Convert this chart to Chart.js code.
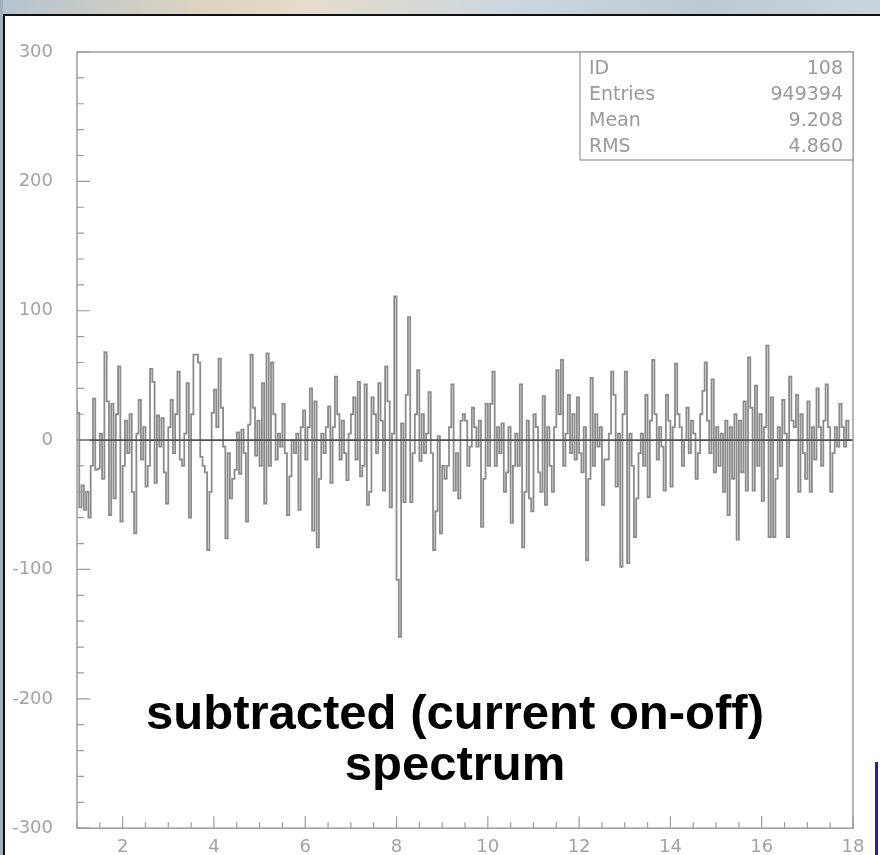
<!DOCTYPE html>
<html>
<head>
<meta charset="utf-8">
<script src="https://cdn.jsdelivr.net/npm/chart.js@4.4.0/dist/chart.umd.min.js"></script>
<style>
  html, body { margin: 0; padding: 0; background: #fff; }
  #page { position: relative; width: 880px; height: 855px; overflow: hidden; background: #fff; }
  #strip { position: absolute; left: 0; top: 0; width: 880px; height: 15px;
    background: linear-gradient(90deg, #b4c3cf 0%, #dcd3c0 22%, #e6dccb 35%, #cfd8df 55%, #bccad5 80%, #c9d5de 100%); }
  #leftStrip { position: absolute; left: 0; top: 0; width: 3px; height: 855px; background: #9fb0bd; }
  #borderTop { position: absolute; left: 3px; top: 14px; width: 877px; height: 2px; background: #111; }
  #borderLeft { position: absolute; left: 3px; top: 14px; width: 2px; height: 841px; background: #111; }
  #blueLine { position: absolute; left: 875px; top: 762px; width: 3px; height: 93px; background: #2e1f96; }
  #chartBox { position: absolute; left: 0; top: 0; width: 880px; height: 855px; }
  #chart { display: block; }
</style>
</head>
<body>
<div id="page">
  <div id="strip"></div>
  <div id="leftStrip"></div>
  <div id="borderTop"></div>
  <div id="borderLeft"></div>
  <div id="chartBox"><canvas id="chart" width="880" height="855"></canvas></div>
  <div id="blueLine"></div>
</div>
<script>
// histogram binning (energy axis)
const xMin = 1;
const xMax = 18;
const binWidth = 0.05;

// subtracted counts per bin (340 bins of 0.05)
const counts = [
  31, 21, -52, -35, -54, -40, -60, -20, 32, -23, -22, 5, -30, 68, 30, -58, 28, -45, 20, 57,
  -63, -20, 15, -10, 20, -40, -72, 5, 31, -15, 10, -36, -20, 55, 45, -33, 19, -5, 17, -25,
  -49, 10, 31, -10, 20, 53, -15, -20, 5, 44, -60, 20, 66, 66, 60, -13, -20, -25, -85, -40,
  21, 39, 10, 63, 25, -5, -76, -10, -45, -30, -23, 6, -26, 8, -10, -63, 12, 66, 25, -12,
  15, -20, 44, -49, 67, -20, 60, 20, -15, 5, -5, 28, -10, -58, -28, 0, -10, 5, -54, 10,
  23, -15, 10, 40, -70, 30, -83, -30, 5, -10, 10, 26, -33, 10, 49, 20, -15, 15, -10, -31,
  5, 20, 33, -15, 45, -28, -20, 43, -50, -40, 33, 20, -10, 44, 15, -39, 57, 30, -52, 5,
  111, -108, -152, 13, -48, 35, 95, -48, -10, 20, 54, -16, 20, -10, 5, 37, -10, -85, -55, 3,
  -72, -20, -30, -20, 10, 43, -39, -10, -45, 15, 20, 15, -20, -5, 25, 10, -5, 15, -67, -30,
  28, -20, 28, 53, -20, 10, -10, 13, -40, -25, 10, -64, -20, 5, -20, 43, -83, -40, 15, -45,
  -55, 20, 10, -25, -40, 34, -50, 10, -20, -40, 10, 54, 20, 62, -20, 5, 35, -10, 20, -15,
  33, -10, -25, 10, -93, -30, 48, -20, 20, -5, 10, -50, -15, -15, 5, 53, 35, -36, 5, -98,
  20, 53, -95, 5, -20, -75, -45, -10, 5, -20, 35, -44, 15, 62, 20, -15, 10, -5, -39, 35,
  15, -36, 10, 59, 20, 10, -20, 0, 25, -10, 15, 5, -30, -10, 20, 38, 60, 15, -10, 47,
  -25, 10, -20, 5, -40, 15, -58, 10, -30, 20, -77, 15, -25, 30, -39, 64, 25, -39, 42, -20,
  20, -47, 10, 73, -75, 33, -75, -30, 10, -20, 31, 5, -75, 49, 15, 10, 35, -40, 20, -10,
  -30, 30, -40, 10, -15, 40, 10, -20, 15, 43, 10, -40, -10, 10, -5, 28, 10, -5, 15, 0
];

// axis labels
const xTickLabels = [2, 4, 6, 8, 10, 12, 14, 16, 18];
const yTickLabels = [-300, -200, -100, 0, 100, 200, 300];

// statistics box
const statNames = ["ID", "Entries", "Mean", "RMS"];
const statValues = ["108", "949394", "9.208", "4.860"];

const titleLines = ["subtracted (current on-off)", "spectrum"];

// step points at the low edge of each bin, plus the closing edge
const histPoints = counts.map((c, i) => ({ x: xMin + i * binWidth, y: c }));
histPoints.push({ x: xMin + counts.length * binWidth, y: counts[counts.length - 1] });

const grey = "#a3a3a3";
const labelFont = "'DejaVu Sans', Verdana, sans-serif";

// ROOT-style frame, inward ticks, zero line, stats box and caption
const rootFrame = {
  id: "rootFrame",
  afterDatasetsDraw(chart) {
    const { ctx, chartArea: a, scales } = chart;
    const xs = scales.x, ys = scales.y;
    ctx.save();

    // zero line
    ctx.strokeStyle = "#505050";
    ctx.lineWidth = 1.6;
    ctx.beginPath();
    ctx.moveTo(a.left, ys.getPixelForValue(0));
    ctx.lineTo(a.right, ys.getPixelForValue(0));
    ctx.stroke();

    // frame
    ctx.strokeStyle = "#9c9c9c";
    ctx.lineWidth = 1.5;
    ctx.strokeRect(a.left, a.top, a.right - a.left, a.bottom - a.top);

    // x ticks: major every 2, minor every 0.5
    ctx.lineWidth = 1.2;
    ctx.beginPath();
    for (let v = xMin; v <= xMax + 1e-9; v += 0.5) {
      const px = xs.getPixelForValue(v);
      const len = (Math.abs(v % 2) < 1e-9) ? 12 : 6;
      ctx.moveTo(px, a.bottom);
      ctx.lineTo(px, a.bottom - len);
    }
    // y ticks: major every 100, minor every 20
    for (let v = -300; v <= 300; v += 20) {
      const py = ys.getPixelForValue(v);
      const len = (v % 100 === 0) ? 13 : 7;
      ctx.moveTo(a.left, py);
      ctx.lineTo(a.left + len, py);
    }
    ctx.stroke();

    // stats box
    const bx = 580, by = a.top, bw = a.right - 580, bh = 108;
    ctx.fillStyle = "#fff";
    ctx.fillRect(bx, by, bw, bh);
    ctx.strokeStyle = "#9c9c9c";
    ctx.lineWidth = 1.3;
    ctx.strokeRect(bx, by, bw, bh);
    ctx.font = "19px " + labelFont;
    ctx.fillStyle = "#9a9a9a";
    ctx.textBaseline = "middle";
    statNames.forEach((n, i) => {
      const ty = by + 17 + i * 26;
      ctx.textAlign = "left";
      ctx.fillText(n, bx + 9, ty);
      ctx.textAlign = "right";
      ctx.fillText(statValues[i], a.right - 10, ty);
    });

    // caption
    ctx.fillStyle = "#000";
    ctx.textAlign = "center";
    ctx.font = "bold 49px 'Liberation Sans', Arial, sans-serif";
    titleLines.forEach((t, i) => ctx.fillText(t, 455, 715 + i * 51));

    ctx.restore();
  }
};

new Chart(document.getElementById("chart"), {
  type: "line",
  data: {
    datasets: [
      {
        data: histPoints,
        stepped: "after",
        borderColor: "#8c8c8c",
        borderWidth: 1.8,
        pointRadius: 0,
        fill: false,
      },
    ],
  },
  options: {
    responsive: false,
    animation: false,
    layout: { padding: { left: 0, right: 27, top: 52, bottom: 0 } },
    plugins: {
      legend: { display: false },
      title: { display: false },
      tooltip: { enabled: false },
    },
    scales: {
      x: {
        type: "linear",
        min: xMin,
        max: xMax,
        grid: { display: false },
        border: { display: false },
        afterBuildTicks: (s) => { s.ticks = xTickLabels.map((v) => ({ value: v })); },
        afterFit: (s) => { s.height = 24; },
        ticks: {
          color: grey,
          padding: 0,
          maxRotation: 0,
          autoSkip: false,
          font: { family: labelFont, size: 18 },
        },
      },
      y: {
        min: -300,
        max: 300,
        grid: { display: false },
        border: { display: false },
        afterBuildTicks: (s) => { s.ticks = yTickLabels.map((v) => ({ value: v })); },
        afterFit: (s) => { s.width = 77; },
        ticks: {
          color: grey,
          padding: 16,
          autoSkip: false,
          font: { family: labelFont, size: 18 },
        },
      },
    },
  },
  plugins: [rootFrame],
});
</script>
</body>
</html>
